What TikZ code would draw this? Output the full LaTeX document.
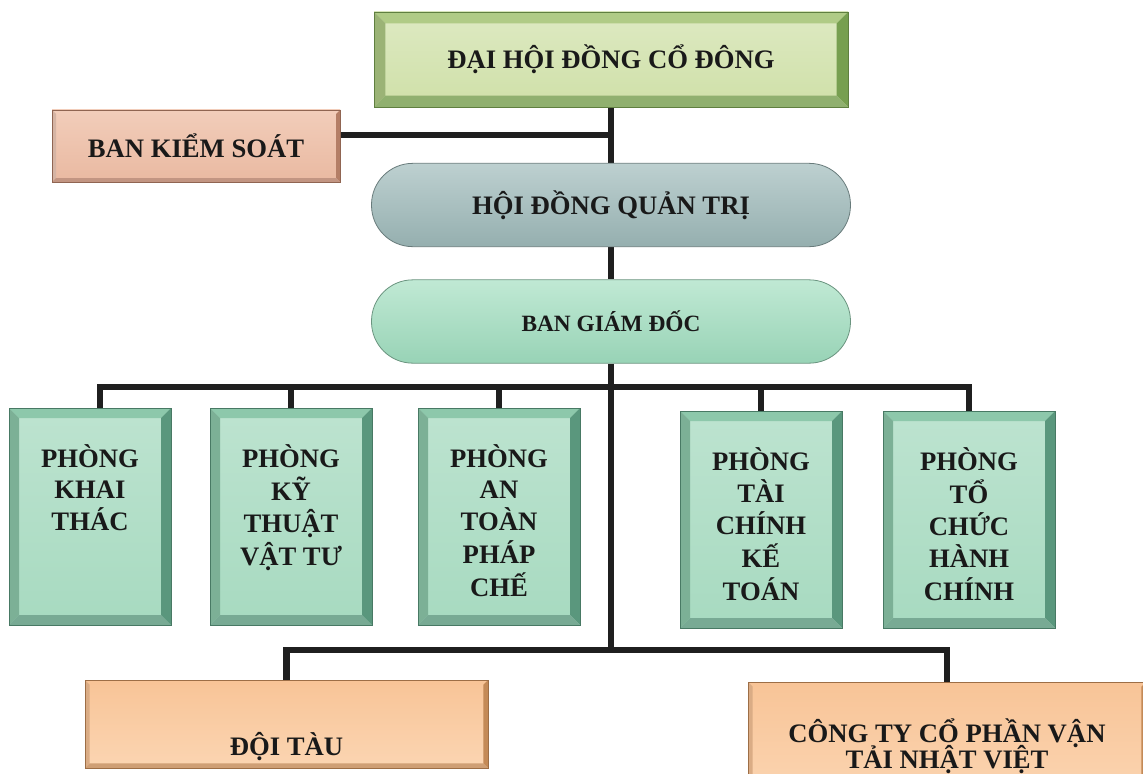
\documentclass[tikz,border=0pt]{standalone}
\usepackage{fontspec}
\setmainfont{Liberation Serif}
\usepackage{xcolor}
\usetikzlibrary{backgrounds}

\definecolor{dhinner}{HTML}{CFE0A8}
\definecolor{dhlight}{HTML}{B0CB86}
\definecolor{dhdark}{HTML}{779F50}
\definecolor{bksfill}{HTML}{E9B9A1}
\definecolor{bkslight}{HTML}{F2CDBA}
\definecolor{bksdark}{HTML}{B47E66}
\definecolor{hdtop}{HTML}{BDD0D0}
\definecolor{hdbot}{HTML}{95AFAF}
\definecolor{bgtop}{HTML}{C0E9D4}
\definecolor{bgbot}{HTML}{98D3B6}
\definecolor{pbinner}{HTML}{A7DAC0}
\definecolor{pblight}{HTML}{8DC8AB}
\definecolor{pbdark}{HTML}{5A977D}
\definecolor{orfill}{HTML}{F8C497}
\definecolor{orlight}{HTML}{FBD5B2}
\definecolor{ordark}{HTML}{C48A57}

% lines hang from the first baseline
\newcommand{\khoi}[1]{\begin{tabular}[t]{@{}c@{}}#1\end{tabular}}

\begin{document}
\begin{tikzpicture}[x=0.75pt,y=-0.75pt,
		link/.style={line width=4.6pt, color=black!88, line join=miter},
		bevel/.style args={#1/#2/#3}{path picture={
				\path (path picture bounding box.north west) coordinate (b1)
				(path picture bounding box.north east) coordinate (b2)
				(path picture bounding box.south east) coordinate (b3)
				(path picture bounding box.south west) coordinate (b4);
				\fill[#1] (b1) -- (b2) -- ([shift={(-#3,-#3)}]b2) -- ([shift={(#3,-#3)}]b1) -- cycle;
				\fill[#1!88!black] (b1) -- (b4) -- ([shift={(#3,#3)}]b4) -- ([shift={(#3,-#3)}]b1) -- cycle;
				\fill[#2] (b2) -- (b3) -- ([shift={(-#3,#3)}]b3) -- ([shift={(-#3,-#3)}]b2) -- cycle;
				\fill[#2!82!white] (b4) -- (b3) -- ([shift={(-#3,#3)}]b3) -- ([shift={(#3,#3)}]b4) -- cycle;
		}},
		txt/.style={inner sep=0pt, text=black!90, font=\fontsize{20}{23.6}\selectfont\bfseries},
		dhbox/.style={txt, draw=dhdark!80!black, line width=0.5pt, top color=dhinner!70!white, bottom color=dhinner,
			bevel=dhlight/dhdark/8.5pt, minimum width=355.5pt, minimum height=71.25pt},
		bksbox/.style={txt, draw=bksdark!80!black, line width=0.5pt, top color=bkslight, bottom color=bksfill,
			bevel=bkslight/bksdark/3pt, minimum width=216pt, minimum height=54pt},
		pill/.style={txt, draw=#1!70!black, line width=0.6pt, rounded corners=31pt,
			minimum width=359.25pt, minimum height=62.5pt},
		phong/.style={txt, draw=pbdark!80!black, line width=0.5pt,
			top color=pbinner!75!white, bottom color=pbinner, bevel=pblight/pbdark/7.5pt,
			minimum width=121.5pt, text height=44.25pt, text depth=118.5pt},
		orbox/.style={txt, draw=ordark!80!black, line width=0.5pt, top color=orfill, bottom color=orlight,
			bevel=orfill/ordark/3.5pt}
	]
	\useasboundingbox (0,0) rectangle (1143,774);
	
	% Top level
	\node[dhbox] (dhdcd) at (611,59.5) {ĐẠI HỘI ĐỒNG CỔ ĐÔNG};
	\node[bksbox] (bks) at (196,146) {BAN KIỂM SOÁT};
	\node[pill=hdbot, top color=hdtop, bottom color=hdbot] (hdqt) at (611,205) {HỘI ĐỒNG QUẢN TRỊ};
	\node[pill=bgbot, top color=bgtop, bottom color=bgbot, font=\fontsize{17.5}{20}\selectfont\bfseries] (bgd) at (611,321.5) {BAN GIÁM ĐỐC};
	
	% Phong ban
	\node[phong] (pkt) at (90,516.5) {\khoi{PHÒNG\\KHAI\\THÁC}};
	\node[phong] (pktvt) at (291,516.5) {\khoi{PHÒNG\\KỸ\\THUẬT\\VẬT TƯ}};
	\node[phong] (patpc) at (499,516.5) {\khoi{PHÒNG\\AN\\TOÀN\\PHÁP\\CHẾ}};
	\node[phong] (ptckt) at (761,519.5) {\khoi{PHÒNG\\TÀI\\CHÍNH\\KẾ\\TOÁN}};
	\node[phong, minimum width=129pt] (ptchc) at (969,519.5) {\khoi{PHÒNG\\TỔ\\CHỨC\\HÀNH\\CHÍNH}};
	
	% Don vi truc thuoc
	\node[orbox, minimum width=302.25pt, text height=56.25pt, text depth=9.75pt] (doitau) at (286.5,724) {ĐỘI TÀU};
	\node[orbox, minimum width=298.5pt, text height=45pt, text depth=43.5pt,
	font=\fontsize{20}{19}\selectfont\bfseries] (congty) at (947,741) {\khoi{CÔNG TY CỔ PHẦN VẬN\\[-3.5pt]TẢI NHẬT VIỆT}};
	
	\coordinate (bus1) at (611,387);
	\coordinate (bus2) at (611,650);
	
	% Connectors
	\begin{scope}[on background layer]
		\fill[white] (0,0) rectangle (1143,774);
		\draw[link] (dhdcd) -- (hdqt);
		\draw[link] (hdqt) -- (bgd);
		\draw[link] (bgd) -- (bus2);
		\draw[link] ([yshift=8.25pt]bks.east) -- ([yshift=8.25pt]bks.east -| dhdcd.south);
		\draw[link] ([xshift=7.5pt]pkt.north) |- (bus1) -| (ptchc.north);
		\foreach \n in {pktvt,patpc,ptckt}
		\draw[link] (\n.north) -- (\n.north |- bus1);
		\draw[link] (doitau.north) |- (bus2) -| (congty.north);
	\end{scope}
\end{tikzpicture}
\end{document}
